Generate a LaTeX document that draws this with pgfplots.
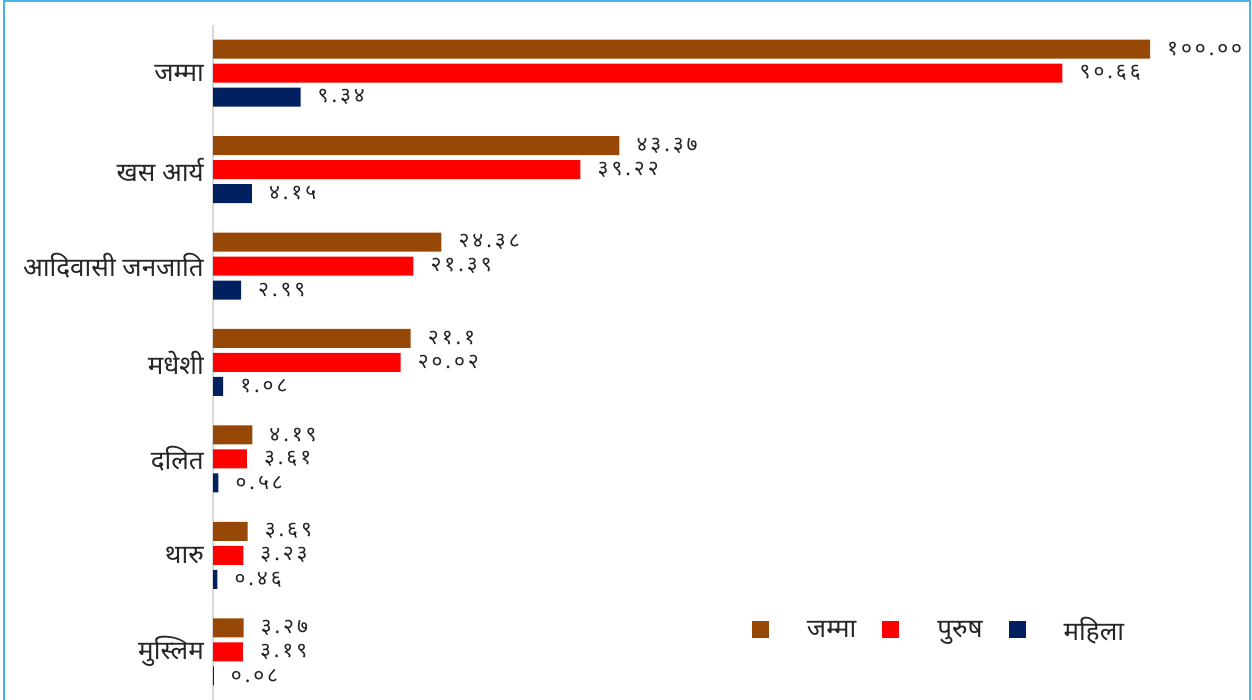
\documentclass[border=0pt]{standalone}
\usepackage{fontspec}
\setmainfont{Noto Sans}[Script=Devanagari]
\newfontfamily\numfont{Noto Sans}[Script=Devanagari, LetterSpace=14]
\usepackage{pgfplots}
\usepackage{pgfplotstable}
\pgfplotsset{compat=1.18}
\definecolor{cbrown}{HTML}{974806}
\definecolor{cred}{HTML}{FF0000}
\definecolor{cnavy}{HTML}{002060}
\definecolor{frameblue}{HTML}{45B4E8}
\definecolor{axgray}{HTML}{D9D9D9}
\definecolor{txt}{HTML}{262626}

\pgfplotstableread{
y jam jamlab pur purlab mah mahlab
6 100.00 १००.०० 90.66 ९०.६६ 9.34 ९.३४
5 43.37 ४३.३७ 39.22 ३९.२२ 4.15 ४.१५
4 24.38 २४.३८ 21.39 २१.३९ 2.99 २.९९
3 21.1 २१.१ 20.02 २०.०२ 1.08 १.०८
2 4.19 ४.१९ 3.61 ३.६१ 0.58 ०.५८
1 3.69 ३.६९ 3.23 ३.२३ 0.46 ०.४६
0 3.27 ३.२७ 3.19 ३.१९ 0.08 ०.०८
}\data

\begin{document}
\begin{tikzpicture}[x=1pt,y=1pt]
\useasboundingbox (0,0) rectangle (1252,700);
\begin{axis}[
  at={(213pt,0pt)}, anchor=south west,
  width=937pt, height=675pt, scale only axis,
  xbar, bar width=19pt,
  xmin=0, xmax=100, ymin=-0.5, ymax=6.5,
  axis x line=none,
  axis y line*=left,
  y axis line style={draw=axgray, line width=2pt},
  ytick={0,1,2,3,4,5,6},
  yticklabels={मुस्लिम, थारु, दलित, मधेशी, आदिवासी जनजाति, खस आर्य, जम्मा},
  yticklabel style={font=\fontsize{26}{30}\selectfont, text=txt, inner sep=0pt, xshift=-9pt},
  major tick length=0pt,
  clip=false,
  nodes near coords,
  point meta=explicit symbolic,
  every node near coord/.append style={anchor=west, inner sep=0pt, xshift=17pt, text=txt, font=\numfont\fontsize{21}{24}\selectfont},
  legend style={at={(0.575,0.1037)}, anchor=west, draw=none, fill=none,
    inner sep=0pt, font=\fontsize{26}{30}\selectfont, text=txt,
    /tikz/every odd column/.append style={column sep=36pt},
    /tikz/every even column/.append style={column sep=24pt}},
  legend columns=3,
]
\addplot[fill=cbrown, draw=none, bar shift=24pt,
  legend image code/.code={\fill[cbrown] (0pt,-8.5pt) rectangle (17pt,8.5pt);}]
  table[x=jam, y=y, meta=jamlab] {\data};
\addplot[fill=cred, draw=none, bar shift=0pt,
  legend image code/.code={\fill[cred] (0pt,-8.5pt) rectangle (17pt,8.5pt);}]
  table[x=pur, y=y, meta=purlab] {\data};
\addplot[fill=cnavy, draw=none, bar shift=-24pt,
  legend image code/.code={\fill[cnavy] (0pt,-8.5pt) rectangle (17pt,8.5pt);}]
  table[x=mah, y=y, meta=mahlab] {\data};
\legend{जम्मा, पुरुष, महिला}
\end{axis}
\draw[frameblue, line width=2pt] (3.7,-5) -- (3.7,699) -- (1249.5,699) -- (1249.5,-5);
\end{tikzpicture}
\end{document}
